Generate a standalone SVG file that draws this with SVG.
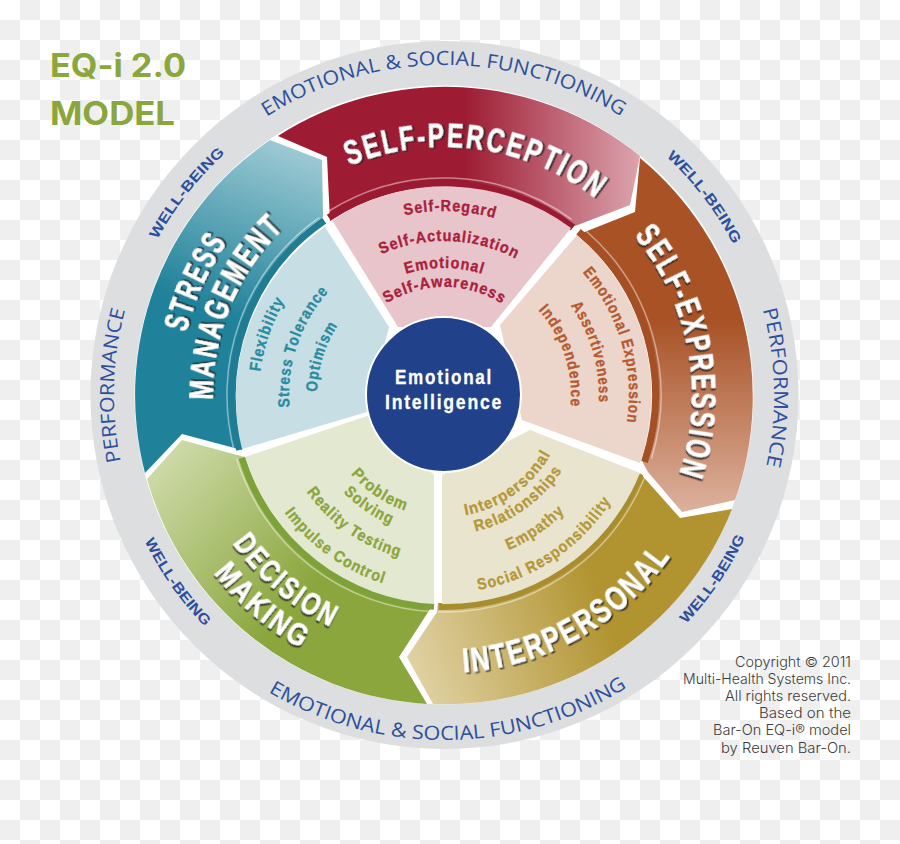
<svg xmlns="http://www.w3.org/2000/svg" width="900" height="844" viewBox="0 0 900 844">
<style>
.ring{font-family:"Open Sans","Liberation Sans",sans-serif;fill:#2c509c;font-size:19.5px}
.wb{font-family:"Liberation Sans",sans-serif;fill:#2c4f9c;font-size:14.5px;font-weight:700}
.big{font-family:"Liberation Sans",sans-serif;font-weight:700;fill:#fff;stroke:#fff;stroke-width:.5px;font-size:34px;letter-spacing:.09em;filter:url(#sh)}
.dm{font-size:31px}
.sm{font-family:"Liberation Sans",sans-serif;font-weight:700;font-size:16px;stroke-width:.35px;letter-spacing:.07em}
.hub{font-family:"Liberation Sans",sans-serif;font-weight:700;font-size:20px;fill:#fff;stroke:#fff;stroke-width:.3px;letter-spacing:.1em;text-anchor:middle}
.eq{font-family:Inter,"Liberation Sans",sans-serif;font-weight:700;font-size:32px;fill:#8aa63c}
.cr{font-family:Inter,"Liberation Sans",sans-serif;font-weight:300;font-size:14px;fill:#3c3c3c;text-anchor:end}
.d{fill:none;stroke-width:7}
.l{fill:none;stroke:#fff;stroke-opacity:.45;stroke-width:1.5}
</style>
<defs>
<pattern id="ck" width="40" height="40" patternUnits="userSpaceOnUse"><rect width="40" height="40" fill="#fff"/><rect x="20" width="20" height="20" fill="#efefef"/><rect y="20" width="20" height="20" fill="#efefef"/></pattern>
<filter id="sh" x="-10%" y="-20%" width="120%" height="140%"><feDropShadow dx="1.6" dy="1.6" stdDeviation="0.4" flood-color="#222" flood-opacity=".85"/></filter>
<linearGradient id="gP" gradientUnits="userSpaceOnUse" x1="465" y1="0" x2="640" y2="0"><stop offset="0" stop-color="#9d1c33"/><stop offset="1" stop-color="#dca4ae"/></linearGradient>
<linearGradient id="gE" gradientUnits="userSpaceOnUse" x1="0" y1="320" x2="0" y2="510"><stop offset="0" stop-color="#a85226"/><stop offset="1" stop-color="#dcb09c"/></linearGradient>
<linearGradient id="gI" gradientUnits="userSpaceOnUse" x1="410" y1="690" x2="610" y2="620"><stop offset="0" stop-color="#e2d4a8"/><stop offset="1" stop-color="#b1932f"/></linearGradient>
<linearGradient id="gD" gradientUnits="userSpaceOnUse" x1="160" y1="450" x2="310" y2="590"><stop offset="0" stop-color="#d0dcac"/><stop offset="1" stop-color="#8aa63c"/></linearGradient>
<linearGradient id="gS" gradientUnits="userSpaceOnUse" x1="310" y1="140" x2="240" y2="320"><stop offset="0" stop-color="#a6cfd8"/><stop offset="1" stop-color="#20829a"/></linearGradient>
<path id="c330" d="M444,65A330,330 0 1 1 444,725A330,330 0 1 1 444,65"/>
<path id="c326" d="M444,69A326,326 0 1 1 444,721A326,326 0 1 1 444,69"/>
<path id="c265" d="M444,130A265,265 0 1 1 444,660A265,265 0 1 1 444,130"/>
<path id="c248" d="M444,147A248,248 0 1 1 444,643A248,248 0 1 1 444,147"/>
<path id="c231" d="M444,164A231,231 0 1 1 444,626A231,231 0 1 1 444,164"/>
<path id="c184" d="M444,211A184,184 0 1 1 444,579A184,184 0 1 1 444,211"/>
<path id="c185" d="M444,210A185,185 0 1 1 444,580A185,185 0 1 1 444,210"/>
<path id="c154" d="M444,241A154,154 0 1 1 444,549A154,154 0 1 1 444,241"/>
<path id="c155" d="M444,240A155,155 0 1 1 444,550A155,155 0 1 1 444,240"/>
<path id="c127" d="M444,268A127,127 0 1 1 444,522A127,127 0 1 1 444,268"/>
<path id="c108" d="M444,287A108,108 0 1 1 444,503A108,108 0 1 1 444,287"/>
<path id="a345" d="M444,740A345,345 0 1 0 444,50A345,345 0 1 0 444,740"/>
<path id="a333" d="M444,728A333,333 0 1 0 444,62A333,333 0 1 0 444,728"/>
<path id="a291" d="M444,686A291,291 0 1 0 444,104A291,291 0 1 0 444,686"/>
<path id="a278" d="M444,673A278,278 0 1 0 444,117A278,278 0 1 0 444,673"/>
<path id="a258" d="M444,653A258,258 0 1 0 444,137A258,258 0 1 0 444,653"/>
<path id="a198" d="M444,593A198,198 0 1 0 444,197A198,198 0 1 0 444,593"/>
<path id="a168" d="M444,563A168,168 0 1 0 444,227A168,168 0 1 0 444,563"/>
<path id="a140" d="M444,535A140,140 0 1 0 444,255A140,140 0 1 0 444,535"/>
<path id="a122" d="M444,517A122,122 0 1 0 444,273A122,122 0 1 0 444,517"/>
</defs>
<rect width="900" height="844" fill="url(#ck)"/>
<g id="title"><text class="eq" x="50" y="77" textLength="136" lengthAdjust="spacingAndGlyphs">EQ-i 2.0</text><text class="eq" x="50" y="125" textLength="125" lengthAdjust="spacingAndGlyphs">MODEL</text></g>
<g id="outer-ring">
<circle cx="444.500" cy="395" r="354" fill="#dcdee0"/>
<circle cx="444" cy="395" r="309.500" fill="#fff"/>
<text class="ring" transform="rotate(-32.5 444 395)"><textPath href="#c330" textLength="374" lengthAdjust="spacingAndGlyphs">EMOTIONAL &amp; SOCIAL FUNCTIONING</textPath></text>
<text class="ring" transform="rotate(30.6 444 395)"><textPath href="#a345" textLength="377" lengthAdjust="spacingAndGlyphs">EMOTIONAL &amp; SOCIAL FUNCTIONING</textPath></text>
<text class="ring" transform="rotate(-101.6 444 395)"><textPath href="#c330" textLength="153" lengthAdjust="spacingAndGlyphs">PERFORMANCE</textPath></text>
<text class="ring" transform="rotate(75 444 395)"><textPath href="#c330" textLength="158" lengthAdjust="spacingAndGlyphs">PERFORMANCE</textPath></text>
<text class="wb" transform="rotate(43 444 395)"><textPath href="#c326" textLength="111" lengthAdjust="spacingAndGlyphs">WELL-BEING</textPath></text>
<text class="wb" transform="rotate(-61.5 444 395)"><textPath href="#c326" textLength="110" lengthAdjust="spacingAndGlyphs">WELL-BEING</textPath></text>
<text class="wb" transform="rotate(64 444 395)"><textPath href="#a333" textLength="105" lengthAdjust="spacingAndGlyphs">WELL-BEING</textPath></text>
<text class="wb" transform="rotate(-46.6 444 395)"><textPath href="#a333" textLength="105" lengthAdjust="spacingAndGlyphs">WELL-BEING</textPath></text>
</g>
<g id="self-perception">
<path d="M278,136A309,309 0 0 1 640,156L630,205L575,226A208,208 0 0 0 330,221L327,157Z" fill="url(#gP)"/>
<path class="d" stroke="#9a1a32" d="M328.800,217.600A211.500,211.500 0 0 1 573,227.500"/>
<path class="l" d="M329,211A217,217 0 0 1 571.600,219.400"/>
<path d="M332,220A209,209 0 0 1 571,228L491,327L398,327Z" fill="#e8c5cb"/>
<text class="big" transform="rotate(-22.5 444 395)"><textPath href="#c248" textLength="262" lengthAdjust="spacingAndGlyphs">SELF-PERCEPTION</textPath></text>
<g fill="#a8213c" stroke="#a8213c" class="sm">
<text transform="rotate(-12.4 444 395)"><textPath href="#c184" textLength="92" lengthAdjust="spacingAndGlyphs">Self-Regard</textPath></text>
<text transform="rotate(-24 444 395)"><textPath href="#c154" textLength="140" lengthAdjust="spacingAndGlyphs">Self-Actualization</textPath></text>
<text transform="rotate(-17.5 444 395)"><textPath href="#c127" textLength="78.500" lengthAdjust="spacingAndGlyphs">Emotional</textPath></text>
<text transform="rotate(-32 444 395)"><textPath href="#c108" textLength="122" lengthAdjust="spacingAndGlyphs">Self-Awareness</textPath></text>
</g></g>
<g id="self-expression">
<path d="M640,158A309,309 0 0 1 735,500L682,512L648,472L643,463A208,208 0 0 0 577,235L635,212Z" fill="url(#gE)"/>
<path class="d" stroke="#a44f24" d="M578.500,231.700A211.500,211.500 0 0 1 644.500,462"/>
<path class="l" d="M586.400,231.200A217,217 0 0 1 651.500,458.500"/>
<path d="M577,235A209,209 0 0 1 640,463L522,420L500,325Z" fill="#ecd5cb"/>
<text class="big" transform="rotate(50 444 395)"><textPath href="#c248" textLength="255" lengthAdjust="spacingAndGlyphs">SELF-EXPRESSION</textPath></text>
<g fill="#b55a30" stroke="#b55a30" class="sm">
<text transform="rotate(48.5 444 395)"><textPath href="#c185" textLength="162" lengthAdjust="spacingAndGlyphs">Emotional Expression</textPath></text>
<text transform="rotate(54.8 444 395)"><textPath href="#c155" textLength="103" lengthAdjust="spacingAndGlyphs">Assertiveness</textPath></text>
<text transform="rotate(48 444 395)"><textPath href="#c127" textLength="105" lengthAdjust="spacingAndGlyphs">Independence</textPath></text>
</g></g>
<g id="interpersonal">
<path d="M732,509A309,309 0 0 1 433,704L407,657L437,612L438,603A208,208 0 0 0 640,473L680,518Z" fill="url(#gI)"/>
<path class="d" stroke="#a88d30" d="M640,474A211.500,211.500 0 0 1 438.500,606.500"/>
<path class="l" d="M644.500,478A217,217 0 0 1 438.300,612"/>
<path d="M640,473A209,209 0 0 1 442,604L442,475L530,430Z" fill="#e9e4cd"/>
<text class="big" transform="rotate(-4 444 395)"><textPath href="#a278" textLength="247" lengthAdjust="spacingAndGlyphs">INTERPERSONAL</textPath></text>
<g fill="#b4983a" stroke="#b4983a" class="sm">
<text transform="rotate(-10 444 395)"><textPath href="#a122" textLength="109" lengthAdjust="spacingAndGlyphs">Interpersonal</textPath></text>
<text transform="rotate(-13 444 395)"><textPath href="#a140" textLength="109" lengthAdjust="spacingAndGlyphs">Relationships</textPath></text>
<text transform="rotate(-22.6 444 395)"><textPath href="#a168" textLength="69" lengthAdjust="spacingAndGlyphs">Empathy</textPath></text>
<text transform="rotate(-10 444 395)"><textPath href="#a198" textLength="165" lengthAdjust="spacingAndGlyphs">Social Responsibility</textPath></text>
</g></g>
<g id="decision-making">
<path d="M427,704A309,309 0 0 1 147,479L182,440L237,455L245,457A208,208 0 0 0 434,603L399,657Z" fill="url(#gD)"/>
<path class="d" stroke="#7ea23a" d="M434,606.300A211.500,211.500 0 0 1 242,457.900"/>
<path class="l" d="M433.800,611.800A217,217 0 0 1 236.500,458.400"/>
<path d="M434,604A209,209 0 0 1 245,457L370,415L434,475Z" fill="#e3e8d1"/>
<text class="big dm" transform="rotate(55 444 395)"><textPath href="#a258" textLength="132" lengthAdjust="spacingAndGlyphs">DECISION</textPath></text>
<text class="big dm" transform="rotate(52.3 444 395)"><textPath href="#a291" textLength="118" lengthAdjust="spacingAndGlyphs">MAKING</textPath></text>
<g fill="#8aa63c" stroke="#8aa63c" class="sm">
<text transform="rotate(49.7 444 395)"><textPath href="#a122" textLength="67" lengthAdjust="spacingAndGlyphs">Problem</textPath></text>
<text transform="rotate(45.9 444 395)"><textPath href="#a140" textLength="58" lengthAdjust="spacingAndGlyphs">Solving</textPath></text>
<text transform="rotate(54.8 444 395)"><textPath href="#a168" textLength="116" lengthAdjust="spacingAndGlyphs">Reality Testing</textPath></text>
<text transform="rotate(53.6 444 395)"><textPath href="#a198" textLength="124" lengthAdjust="spacingAndGlyphs">Impulse Control</textPath></text>
</g></g>
<g id="stress-management">
<path d="M145,473A309,309 0 0 1 270,140L322,160L323,217A208,208 0 0 0 242,450L182,434Z" fill="url(#gS)"/>
<path class="d" stroke="#1f7c93" d="M239.700,449.800A211.500,211.500 0 0 1 324.200,220.700"/>
<path class="l" d="M234.800,453A217,217 0 0 1 319.500,217.300"/>
<path d="M242,449A209,209 0 0 1 325,227L389,327L367,412Z" fill="#c7dfe4"/>
<text class="big" transform="rotate(-76.4 444 395)"><textPath href="#c265" textLength="101" lengthAdjust="spacingAndGlyphs">STRESS</textPath></text>
<text class="big" transform="rotate(-91.2 444 395)"><textPath href="#c231" textLength="192" lengthAdjust="spacingAndGlyphs">MANAGEMENT</textPath></text>
<g fill="#2a8aa0" stroke="#2a8aa0" class="sm">
<text transform="rotate(-82.8 444 395)"><textPath href="#c185" textLength="76" lengthAdjust="spacingAndGlyphs">Flexibility</textPath></text>
<text transform="rotate(-94.5 444 395)"><textPath href="#c155" textLength="126" lengthAdjust="spacingAndGlyphs">Stress Tolerance</textPath></text>
<text transform="rotate(-88.6 444 395)"><textPath href="#c127" textLength="71" lengthAdjust="spacingAndGlyphs">Optimism</textPath></text>
</g></g>
<g id="hub">
<circle cx="443.500" cy="394.500" r="77.500" fill="#21418b" stroke="#fff" stroke-width="2"/>
<text class="hub" x="444" y="384" textLength="98" lengthAdjust="spacingAndGlyphs">Emotional</text>
<text class="hub" x="444" y="409" textLength="118" lengthAdjust="spacingAndGlyphs">Intelligence</text>
</g>
<g id="copyright">
<text class="cr" x="851" y="667" textLength="116" lengthAdjust="spacingAndGlyphs">Copyright © 2011</text>
<text class="cr" x="851" y="684" textLength="168" lengthAdjust="spacingAndGlyphs">Multi-Health Systems Inc.</text>
<text class="cr" x="851" y="701" textLength="126" lengthAdjust="spacingAndGlyphs">All rights reserved.</text>
<text class="cr" x="851" y="718" textLength="92" lengthAdjust="spacingAndGlyphs">Based on the</text>
<text class="cr" x="851" y="735" textLength="138" lengthAdjust="spacingAndGlyphs">Bar-On EQ-i® model</text>
<text class="cr" x="851" y="753" textLength="130" lengthAdjust="spacingAndGlyphs">by Reuven Bar-On.</text>
</g>
</svg>
